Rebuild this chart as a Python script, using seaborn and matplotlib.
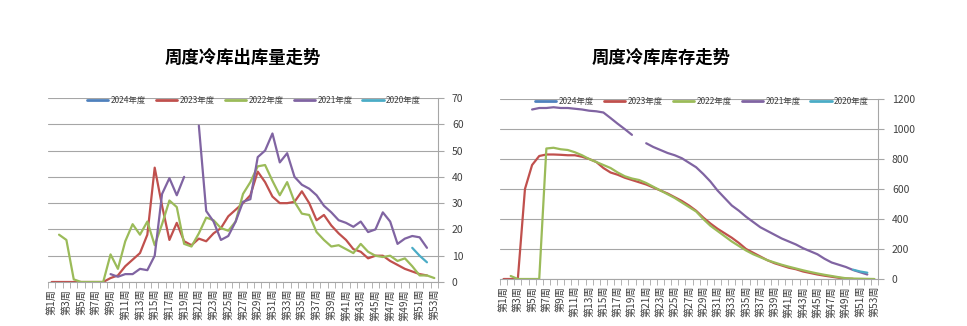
import numpy as np
import pandas as pd
import matplotlib
matplotlib.use("Agg")
import matplotlib.pyplot as plt
import seaborn as sns
from matplotlib.lines import Line2D

nan = np.nan
weeks = list(range(1, 54))
week_labels = [f"第{w}周" for w in weeks]
years = ["2024年度", "2023年度", "2022年度", "2021年度", "2020年度"]
colors = ["#4F81BD", "#C0504D", "#9BBB59", "#8064A2", "#4BACC6"]

# ---- 周度冷库出库量 ----
out_2024 = [nan] * 53
out_2023 = [0, 0, 0, 0, 0, 0, 0, 0, 1.5, 2.5, 6, 8.5, 11, 18, 43.5, 29, 16, 22.5, 15.5, 14,
            16.5, 15.5, 18.5, 20.5, 25, 27.5, 30, 33, 42, 38, 32.5, 30, 30, 30.5, 34.5, 30,
            23.5, 25.5, 21.5, 18.5, 16, 12.5, 11.5, 9, 10, 10, 8, 6.5, 5, 4, 3, 2.5, nan]
out_2022 = [nan, 18, 16, 1, 0, 0, 0, 0, 10.5, 5, 15.5, 22, 18, 23, 14, 22, 31, 28.5, 14.5, 13.5,
            18.5, 24.5, 23.5, 20.5, 19.5, 23, 33.5, 38, 44, 44.5, 38.5, 33, 38, 30.5, 26, 25.5,
            19, 16, 13.5, 14, 12.5, 11, 14.5, 11.5, 10, 9.5, 10, 8, 9, 6, 2.5, 2.5, 1.5]
out_2021 = [nan] * 8 + [3, 2, 3, 3, 5, 4.5, 10, 33.5, 39.5, 33, 40, nan, 59.5, 27, 23, 16, 17.5,
                        23, 30.5, 31.5, 47.5, 50, 56.5, 45.5, 49, 40, 37, 35.5, 33, 29, 26.5, 23.5,
                        22.5, 21, 23, 19, 20, 26.5, 23, 14.5, 16.5, 17.5, 17, 13, nan]
out_2020 = [nan] * 49 + [13, 10, 7.5, nan]

# ---- 周度冷库库存 ----
inv_2024 = [nan] * 53
inv_2023 = [0, 0, 0, 600, 760, 820, 830, 830, 828, 825, 825, 815, 800, 780, 740, 710, 695, 675,
            660, 645, 630, 610, 590, 570, 545, 520, 490, 455, 410, 370, 335, 305, 275, 240, 200,
            175, 150, 125, 105, 90, 75, 65, 50, 40, 30, 22, 15, 8, 3, 1, nan, nan, nan]
inv_2022 = [nan, 20, 0, 0, 0, 0, 870, 875, 865, 860, 845, 825, 800, 780, 760, 740, 710, 685, 670,
            660, 640, 615, 590, 565, 540, 510, 480, 450, 400, 355, 320, 285, 250, 220, 190, 165,
            145, 125, 110, 95, 82, 70, 58, 47, 37, 28, 20, 12, 5, 3, 2, 1, 0]
inv_2021 = [nan] * 4 + [1130, 1140, 1140, 1145, 1140, 1140, 1135, 1130, 1122, 1118, 1110, 1073,
                        1035, 999, 961, nan, 905, 880, 860, 840, 825, 805, 775, 745, 700, 650, 590,
                        540, 490, 455, 415, 380, 345, 320, 295, 270, 250, 230, 205, 185, 165, 135,
                        110, 95, 80, 60, 45, 30, nan]
inv_2020 = [nan] * 49 + [62, 50, 42, nan]

out_series = [out_2024, out_2023, out_2022, out_2021, out_2020]
inv_series = [inv_2024, inv_2023, inv_2022, inv_2021, inv_2020]


def long_df(series_list):
    rows = []
    for yr, vals in zip(years, series_list):
        seg = 0
        prev_nan = True
        for w, v in zip(weeks, vals):
            if v is None or (isinstance(v, float) and np.isnan(v)):
                prev_nan = True
                continue
            if prev_nan:
                seg += 1
            prev_nan = False
            rows.append({"week": w, "value": v, "year": yr, "seg": f"{yr}_{seg}"})
    return pd.DataFrame(rows)


sns.set_style("white")
plt.rcParams["font.family"] = ["Noto Sans CJK SC", "DejaVu Sans"]
plt.rcParams["axes.unicode_minus"] = False

W, H = 967, 326
fig = plt.figure(figsize=(W / 100, H / 100), dpi=100)
fig.patch.set_facecolor("white")

palette = dict(zip(years, colors))
grid_c = "#A6A6A6"
spine_c = "#A6A6A6"


def draw(ax, series_list, ymax, ystep, title, title_xy, leg_xy):
    df = long_df(series_list)
    present = [y for y in years if y in set(df["year"])]
    sns.lineplot(data=df, x="week", y="value", hue="year", units="seg", estimator=None,
                 hue_order=present, palette=palette, linewidth=1.6, legend=False,
                 sort=False, ax=ax)
    ax.set_xlim(0.5, 53.5)
    ax.set_ylim(0, ymax)
    ax.set_xlabel("")
    ax.set_ylabel("")
    ax.set_axisbelow(True)
    ax.yaxis.tick_right()
    ax.set_yticks(np.arange(0, ymax + 1, ystep))
    ax.yaxis.grid(True, color=grid_c, linewidth=0.8)
    ax.xaxis.grid(False)
    ax.tick_params(axis="y", which="major", right=True, left=False, length=4,
                   color=spine_c, labelsize=7.5, labelcolor="#404040", pad=6)
    ax.set_xticks(weeks[::2])
    ax.set_xticklabels(week_labels[::2], rotation=90, fontsize=7.3, color="#404040")
    ax.set_xticks(np.arange(0.5, 54, 1), minor=True)
    ax.tick_params(axis="x", which="major", length=0, pad=5)
    ax.tick_params(axis="x", which="minor", bottom=True, length=4, color=spine_c)
    for s in ["top", "left"]:
        ax.spines[s].set_visible(False)
    for s in ["right", "bottom"]:
        ax.spines[s].set_visible(True)
        ax.spines[s].set_color(spine_c)
        ax.spines[s].set_linewidth(0.8)
    handles = [Line2D([0], [0], color=c, lw=2) for c in colors]
    fig.legend(handles, years, loc="center", bbox_to_anchor=(leg_xy[0] / W, 1 - leg_xy[1] / H),
               ncol=5, frameon=False, fontsize=6.0, handlelength=2.6, handletextpad=0.25,
               columnspacing=1.2, labelcolor="#404040")
    fig.text(title_xy[0] / W, 1 - title_xy[1] / H, title, ha="center", va="center",
             fontsize=12.5, fontweight="bold", color="#000000")


ax1 = fig.add_axes([48 / W, (H - 282) / H, 390 / W, (282 - 98) / H])
draw(ax1, out_series, 70, 10, "周度冷库出库量走势", (243, 58), (254, 100))

ax2 = fig.add_axes([500 / W, (H - 279) / H, 378 / W, (279 - 99) / H])
draw(ax2, inv_series, 1200, 200, "周度冷库库存走势", (661, 58), (702, 101))

fig.savefig("out.png", dpi=100, facecolor="white")
